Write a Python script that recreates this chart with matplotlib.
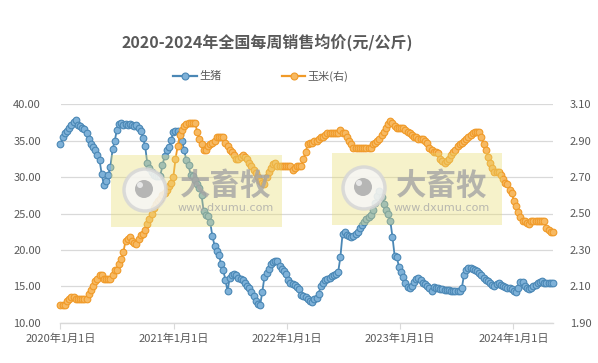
import matplotlib
matplotlib.use('Agg')
import matplotlib.pyplot as plt
import numpy as np
import pandas as pd
from matplotlib.patches import Rectangle, Circle

plt.rcParams['font.family'] = ['Noto Sans CJK SC', 'DejaVu Sans']

# ---------------- data ----------------
title = '2020-2024年全国每周销售均价(元/公斤)'
series_names = ['生猪', '玉米(右)']
start_date = '2020-01-01'

pig = [34.5, 35.5, 36.1, 36.4, 36.8, 37.2, 37.6, 37.8, 37.2, 37.0,
       36.8, 36.6, 36.0, 35.3, 34.5, 34.2, 33.7, 33.0, 32.3, 30.4,
       28.9, 29.5, 30.3, 31.4, 33.8, 35.0, 36.5, 37.3, 37.4, 37.1,
       37.3, 37.2, 37.3, 37.1, 37.0, 37.2, 36.8, 36.3, 35.4, 34.3,
       31.9, 31.2, 30.7, 30.3, 30.2, 30.2, 30.2, 31.6, 32.9, 33.7,
       34.2, 35.1, 36.2, 36.4, 36.4, 35.9, 35.0, 33.7, 32.3, 31.6,
       30.3, 30.2, 29.6, 29.1, 28.5, 27.5, 25.3, 24.8, 24.6, 23.8,
       21.9, 20.6, 19.9, 19.3, 18.1, 17.2, 15.9, 14.3, 16.2, 16.5,
       16.7, 16.5, 16.2, 16.0, 15.8, 15.5, 15.1, 14.8, 14.2, 13.7,
       13.0, 12.6, 12.4, 14.2, 16.3, 16.8, 17.4, 18.0, 18.4, 18.5,
       18.5, 17.8, 17.4, 17.1, 16.7, 15.8, 15.5, 15.3, 15.2, 14.9,
       14.6, 13.8, 13.6, 13.5, 13.2, 13.0, 12.9, 13.2, 13.4, 14.0,
       15.1, 15.5, 15.8, 16.0, 16.2, 16.4, 16.5, 16.7, 17.0, 19.0,
       22.2, 22.4, 22.1, 21.9, 21.8, 21.9, 22.2, 22.4, 23.0, 23.4,
       23.9, 24.3, 24.5, 24.8, 25.5, 26.4, 27.4, 28.1, 27.2, 26.3,
       25.5, 25.0, 24.0, 21.8, 19.2, 19.0, 17.7, 17.0, 16.3, 15.5,
       14.9, 14.7, 15.0, 15.6, 16.0, 16.1, 15.8, 15.5, 15.3, 15.0,
       14.7, 14.4, 14.9, 14.8, 14.7, 14.6, 14.6, 14.5, 14.5, 14.5,
       14.4, 14.4, 14.3, 14.3, 14.3, 14.8, 16.6, 17.3, 17.5, 17.5,
       17.4, 17.3, 17.1, 16.8, 16.5, 16.2, 15.9, 15.7, 15.5, 15.2,
       15.1, 15.3, 15.4, 15.2, 15.0, 14.9, 14.7, 14.7, 14.6, 14.4,
       14.2, 14.7, 15.6, 15.6, 15.1, 14.7, 14.6, 14.8, 15.0, 15.2,
       15.4, 15.6, 15.7, 15.5, 15.4, 15.4, 15.4, 15.4]

corn = [2.00, 2.00, 2.00, 2.02, 2.03, 2.04, 2.04, 2.03, 2.03, 2.03,
        2.03, 2.03, 2.03, 2.06, 2.08, 2.10, 2.13, 2.14, 2.16, 2.16,
        2.14, 2.14, 2.14, 2.14, 2.16, 2.19, 2.19, 2.22, 2.25, 2.29,
        2.35, 2.36, 2.37, 2.35, 2.34, 2.33, 2.36, 2.38, 2.39, 2.41,
        2.44, 2.47, 2.50, 2.53, 2.55, 2.57, 2.58, 2.60, 2.61, 2.63,
        2.65, 2.67, 2.70, 2.80, 2.87, 2.93, 2.96, 2.98, 2.99, 3.00,
        3.00, 3.00, 3.00, 2.95, 2.91, 2.88, 2.85, 2.85, 2.87, 2.88,
        2.89, 2.90, 2.92, 2.92, 2.92, 2.92, 2.89, 2.87, 2.85, 2.84,
        2.82, 2.80, 2.80, 2.81, 2.82, 2.81, 2.80, 2.78, 2.76, 2.74,
        2.72, 2.70, 2.68, 2.67, 2.66, 2.70, 2.73, 2.75, 2.77, 2.78,
        2.76, 2.76, 2.76, 2.76, 2.76, 2.76, 2.76, 2.74, 2.75, 2.76,
        2.76, 2.76, 2.80, 2.84, 2.88, 2.89, 2.89, 2.90, 2.90, 2.91,
        2.92, 2.92, 2.93, 2.94, 2.94, 2.94, 2.94, 2.94, 2.94, 2.96,
        2.94, 2.94, 2.92, 2.90, 2.88, 2.86, 2.86, 2.86, 2.86, 2.86,
        2.86, 2.86, 2.86, 2.86, 2.88, 2.89, 2.90, 2.91, 2.93, 2.95,
        2.97, 2.99, 3.01, 3.00, 2.98, 2.97, 2.97, 2.97, 2.97, 2.96,
        2.95, 2.94, 2.93, 2.92, 2.92, 2.91, 2.91, 2.91, 2.90, 2.89,
        2.86, 2.85, 2.84, 2.84, 2.83, 2.80, 2.79, 2.78, 2.79, 2.80,
        2.82, 2.84, 2.85, 2.87, 2.88, 2.89, 2.90, 2.91, 2.92, 2.93,
        2.94, 2.95, 2.95, 2.95, 2.92, 2.88, 2.85, 2.81, 2.78, 2.75,
        2.73, 2.73, 2.73, 2.71, 2.69, 2.67, 2.66, 2.63, 2.61, 2.57,
        2.54, 2.51, 2.48, 2.46, 2.46, 2.45, 2.44, 2.46, 2.46, 2.46,
        2.46, 2.46, 2.46, 2.46, 2.42, 2.41, 2.40, 2.40]

tick_dates = ['2020-01-01', '2021-01-01', '2022-01-01', '2023-01-01', '2024-01-01']
tick_labels = ['2020年1月1日', '2021年1月1日', '2022年1月1日', '2023年1月1日', '2024年1月1日']
left_ticks = [10, 15, 20, 25, 30, 35, 40]
right_ticks = [1.90, 2.10, 2.30, 2.50, 2.70, 2.90, 3.10]

dates = pd.date_range(start_date, periods=len(pig), freq='7D')

# ---------------- style ----------------
W, H = 598, 363
TXT = '#595959'
GRID = '#d9d9d9'
BLUE_LINE = '#4a87b5'
BLUE_FACE = '#7eb1d8'
ORG_LINE = '#f09a28'
ORG_FACE = '#f7b962'

fig = plt.figure(figsize=(W / 100, H / 100), dpi=100)
x0, x1, ytop, ybot = 60.5, 553.0, 104.3, 322.7
ax = fig.add_axes([x0 / W, 1 - ybot / H, (x1 - x0) / W, (ybot - ytop) / H])
ax2 = ax.twinx()

ax.plot(dates, pig, color=BLUE_LINE, lw=1.3, marker='o', ms=4.8,
        mfc=BLUE_FACE, mec=BLUE_LINE, mew=0.8, zorder=3, clip_on=False)
ax2.plot(dates, corn, color=ORG_LINE, lw=1.3, marker='o', ms=4.8,
         mfc=ORG_FACE, mec=ORG_LINE, mew=0.8, zorder=3, clip_on=False)

ax.set_xlim(dates[0], dates[-1])
ax.set_ylim(10, 40)
ax2.set_ylim(1.90, 3.10)
ax.set_yticks(left_ticks)
ax.set_yticklabels([f'{v:.2f}' for v in left_ticks])
ax2.set_yticks(right_ticks)
ax2.set_yticklabels([f'{v:.2f}' for v in right_ticks])
ax.set_xticks(pd.to_datetime(tick_dates))
ax.set_xticklabels(tick_labels)

for a in (ax, ax2):
    for s in ('top', 'left', 'right', 'bottom'):
        a.spines[s].set_visible(False)
ax.spines['bottom'].set_visible(True)
ax.spines['bottom'].set_color(GRID)
ax.spines['bottom'].set_linewidth(1.0)

ax.tick_params(axis='y', length=0, labelsize=8, labelcolor=TXT, pad=14)
ax2.tick_params(axis='y', length=0, labelsize=8, labelcolor=TXT, pad=12)
ax.tick_params(axis='x', length=4, width=0.8, color=GRID, labelsize=8,
               labelcolor=TXT, pad=4, direction='out')
ax.grid(axis='y', color=GRID, lw=0.9)
ax.set_axisbelow(True)
ax.patch.set_visible(False)

# ---------------- overlay (title, legend, watermarks) in pixel coords -----
ov = fig.add_axes([0, 0, 1, 1], zorder=10)
ov.set_xlim(0, W)
ov.set_ylim(H, 0)
ov.axis('off')

ov.text(267, 42, title, ha='center', va='center', fontsize=11.5,
        fontweight='bold', color=TXT)

# legend
ov.plot([173, 197], [76, 76], color=BLUE_LINE, lw=1.6)
ov.plot([185], [76], marker='o', ms=5, mfc=BLUE_FACE, mec=BLUE_LINE, mew=0.8)
ov.text(199, 76, series_names[0], ha='left', va='center', fontsize=8, color=TXT)
ov.plot([282, 305], [76, 76], color=ORG_LINE, lw=1.6)
ov.plot([293.5], [76], marker='o', ms=5, mfc=ORG_FACE, mec=ORG_LINE, mew=0.8)
ov.text(307, 76, series_names[1], ha='left', va='center', fontsize=8, color=TXT)

# watermarks
def watermark(rx0, rx1, ry0, ry1, cx, cy, tx):
    ov.add_patch(Rectangle((rx0, ry0), rx1 - rx0, ry1 - ry0,
                           facecolor='#e8dc6e', alpha=0.36, lw=0))
    ov.add_patch(Circle((cx, cy), 21, facecolor='#f6f6f6', edgecolor='#d6d6d6',
                        lw=2.5, alpha=0.85))
    ov.add_patch(Circle((cx - 1, cy - 1), 9, facecolor='#ababab', lw=0, alpha=0.85))
    ov.add_patch(Circle((cx - 5, cy - 5), 3, facecolor='#f0f0f0', lw=0, alpha=0.85))
    ov.text(tx, 186, '大畜牧', ha='center', va='center', fontsize=22,
            fontweight='bold', color='#a4a4a4', alpha=0.8)
    ov.text(tx, 208, 'www.dxumu.com', ha='center', va='center', fontsize=8,
            color='#a8a8a8', alpha=0.8, family='DejaVu Sans')

watermark(111, 282, 155, 227, 145, 190, 226)
watermark(332, 502, 153, 225, 364, 188, 442)

fig.savefig('out.png', dpi=100)
